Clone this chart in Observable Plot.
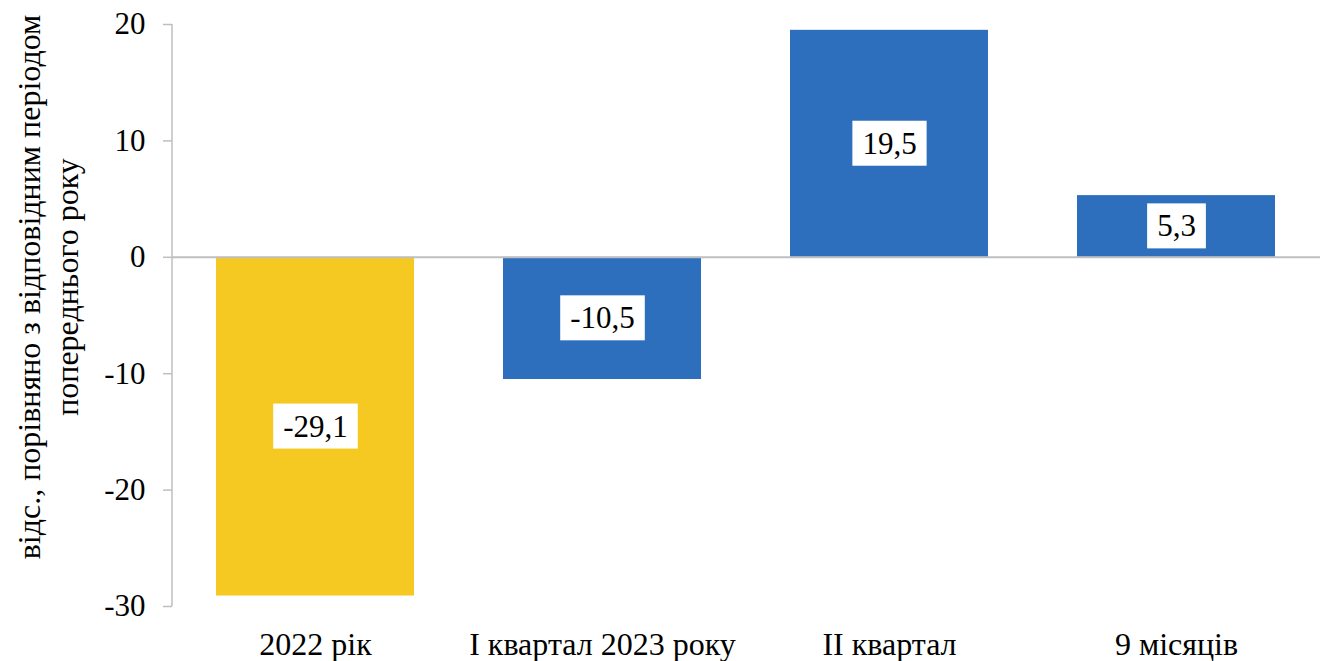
<!DOCTYPE html>
<html>
<head>
<meta charset="utf-8">
<script src="https://cdn.jsdelivr.net/npm/d3@7"></script>
<script src="https://cdn.jsdelivr.net/npm/@observablehq/plot@0.6"></script>
<style>
  html, body { margin: 0; padding: 0; background: #fff; }
  #chart svg { display: block; overflow: visible; }
  #chart svg text { font-family: "Liberation Serif", "Times New Roman", serif !important; font-size: 31px !important; fill: #000; }
  #chart svg g[aria-label="x-axis tick label"] text { font-size: 32px !important; }
  #chart svg g.ytitle text { font-size: 32px !important; }
</style>
</head>
<body>
<div id="chart"></div>
<script>
const categories = ["2022 рік", "I квартал 2023 року", "II квартал", "9 місяців"];
const values = [-29.1, -10.5, 19.5, 5.3];
const barColors = ["#F6C922", "#2D6EBD", "#2D6EBD", "#2D6EBD"];
const yTicks = [-30, -20, -10, 0, 10, 20];
const yTitleLines = ["відс., порівняно з відповідним періодом", "попереднього року"];

const data = categories.map((c, i) => ({cat: c, value: values[i], color: barColors[i], label: values[i].toFixed(1).replace(".", ",")}));

const W = 1326, H = 661;

const plot = Plot.plot({
  width: W,
  height: H,
  marginLeft: 172,
  marginRight: 6,
  marginTop: 24,
  marginBottom: 55,
  style: {background: "#fff", overflow: "visible"},
  x: {domain: categories, paddingInner: 0.31, paddingOuter: 0.155, label: null},
  y: {domain: [-30, 20], label: null},
  marks: [
    Plot.barY(data, {x: "cat", y: "value", fill: "color"}),
    Plot.ruleY([0], {stroke: "#BFBFBF", strokeWidth: 2}),
    Plot.axisY({ticks: yTicks, tickSize: 9, tickPadding: 18, tickFormat: d => String(d), stroke: "#BFBFBF", strokeWidth: 1.5, label: null}),
    Plot.axisX({tickSize: 0, tickPadding: 26, label: null}),
    Plot.text(data, {x: "cat", y: d => d.value / 2, text: "label"})
  ]
});

document.getElementById("chart").appendChild(plot);

const svg = d3.select(plot);
const yS = plot.scale("y");

// left axis line
svg.insert("line", ":first-child")
  .attr("x1", 172).attr("x2", 172)
  .attr("y1", yS.apply(20)).attr("y2", yS.apply(-30))
  .attr("stroke", "#BFBFBF").attr("stroke-width", 1.5);

// white boxes behind value labels
const labelG = svg.select('g[aria-label="text"]');
labelG.selectAll("text").each(function() {
  const bb = this.getBBox();
  const padX = 10, padY = 5;
  const tr = this.getAttribute("transform");
  const r = document.createElementNS("http://www.w3.org/2000/svg", "rect");
  r.setAttribute("x", bb.x - padX);
  r.setAttribute("y", bb.y - padY);
  r.setAttribute("width", bb.width + 2 * padX);
  r.setAttribute("height", bb.height + 2 * padY);
  if (tr) r.setAttribute("transform", tr);
  r.setAttribute("fill", "#fff");
  this.parentNode.insertBefore(r, this);
});

// y axis title (two rotated lines)
const cy = 287;
const titleG = svg.append("g").attr("class", "ytitle");
[40, 78].forEach((x, i) => {
  titleG.append("text")
    .attr("transform", `translate(${x},${cy}) rotate(-90)`)
    .attr("text-anchor", "middle")
    .text(yTitleLines[i]);
});
</script>
</body>
</html>
